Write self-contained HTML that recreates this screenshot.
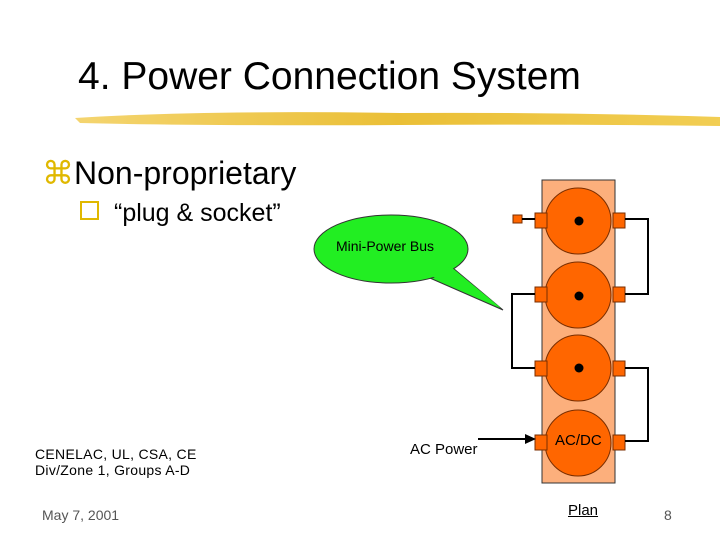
<!DOCTYPE html>
<html><head><meta charset="utf-8"><style>
body{margin:0;width:720px;height:540px;background:#fff;overflow:hidden;position:relative;font-family:"Liberation Sans",sans-serif}
.t{position:absolute;white-space:nowrap}
</style></head><body>
<svg width="720" height="540" style="position:absolute;left:0;top:0">
<defs><linearGradient id="g" x1="0" x2="1"><stop offset="0" stop-color="#f3d060"/><stop offset="0.5" stop-color="#e8b820"/><stop offset="1" stop-color="#f0c840"/></linearGradient></defs>
<path d="M75 118 Q200 110 400 113 Q560 112 720 117 L720 126 Q560 124 400 125 Q200 126 80 123 Z" fill="url(#g)" opacity="0.9"/>
<rect x="542" y="180" width="73" height="303" fill="#fcaf7c" stroke="#333" stroke-width="1"/>
<g fill="#ff6600" stroke="#7a2e00" stroke-width="1">
<circle cx="578" cy="221" r="33"/><circle cx="578" cy="295" r="33"/><circle cx="578" cy="368" r="33"/><circle cx="578" cy="443" r="33"/>
<rect x="535" y="213" width="12" height="15"/><rect x="613" y="213" width="12" height="15"/>
<rect x="535" y="287" width="12" height="15"/><rect x="613" y="287" width="12" height="15"/>
<rect x="535" y="361" width="12" height="15"/><rect x="613" y="361" width="12" height="15"/>
<rect x="535" y="435" width="12" height="15"/><rect x="613" y="435" width="12" height="15"/>
<rect x="513" y="215" width="9" height="8"/>
</g>
<g fill="#000"><circle cx="579" cy="221" r="4.5"/><circle cx="579" cy="296" r="4.5"/><circle cx="579" cy="368" r="4.5"/></g>
<g fill="none" stroke="#000" stroke-width="2">
<path d="M522 219 H535"/>
<path d="M625 219 H648 V294 H625"/>
<path d="M535 294 H512 V368 H535"/>
<path d="M625 368 H648 V441 H625"/>
<path d="M478 439 H527"/>
</g>
<path d="M525 434 L536 439 L525 444Z" fill="#000"/>
<path d="M423 275 L503 310 L453 268 Z" fill="#22ee22" stroke="#333" stroke-width="1"/>
<ellipse cx="391" cy="249" rx="77" ry="34" fill="#22ee22" stroke="#333" stroke-width="1"/>
<path d="M425 273 L501 308 L451 267 Z" fill="#22ee22"/>
</svg>
<div class="t" style="left:78px;top:55px;font-size:39px;color:#000">4. Power Connection System</div>
<div class="t" style="left:42px;top:154px;font-size:32px"><span style="color:#e0b800">⌘</span>Non-proprietary</div>
<div class="t" style="left:80px;top:199px;font-size:25px"><span style="display:inline-block;width:15px;height:15px;border:2px solid #e0b800;margin-right:15px;vertical-align:1px"></span>“plug &amp; socket”</div>
<div class="t" style="left:336px;top:238px;font-size:14px">Mini-Power Bus</div>
<div class="t" style="left:35px;top:446px;font-size:14px;line-height:16px;letter-spacing:0.3px">CENELAC, UL, CSA, CE<br>Div/Zone 1, Groups A-D</div>
<div class="t" style="left:410px;top:441px;font-size:15px">AC Power</div>
<div class="t" style="left:555px;top:432px;font-size:15px">AC/DC</div>
<div class="t" style="left:568px;top:502px;font-size:15px;text-decoration:underline">Plan</div>
<div class="t" style="left:42px;top:507px;font-size:14px;color:#555">May 7, 2001</div>
<div class="t" style="left:664px;top:507px;font-size:14px;color:#555">8</div>
</body></html>
